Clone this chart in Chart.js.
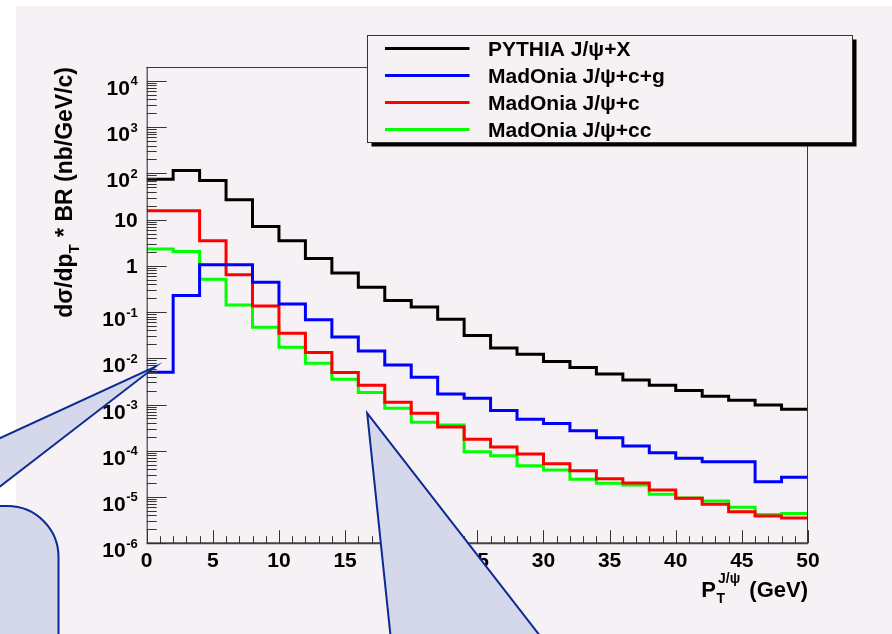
<!DOCTYPE html>
<html>
<head>
<meta charset="utf-8">
<script src="https://cdn.jsdelivr.net/npm/chart.js@4.4.1/dist/chart.umd.min.js"></script>
<style>
  html, body { margin: 0; padding: 0; background: #ffffff; overflow: hidden; }
  canvas { display: block; }
</style>
</head>
<body>
<canvas id="c" width="892" height="634"></canvas>
<script>
// Histogram binning in pT (GeV): low edges of the 2 GeV bins and the upper edge
const binLow = [0, 2, 4, 6, 8, 10, 12, 14, 16, 18, 20, 22, 24, 26, 28, 30, 32, 34, 36, 38, 40, 42, 44, 46, 48];
const binHigh = 50;

// dsigma/dpT * BR (nb/GeV/c) per bin
const pythiaX = [75, 116, 70, 26.8, 7.1, 3.5, 1.44, 0.70, 0.346, 0.177, 0.128, 0.070, 0.031, 0.0166, 0.0123,
                 0.0085, 0.0063, 0.0046, 0.0034, 0.00262, 0.0020, 0.00151, 0.00124, 0.00098, 0.00079];
const madoniaCG = [0.0050, 0.228, 1.05, 1.05, 0.444, 0.150, 0.068, 0.0287, 0.0144, 0.0072, 0.0039, 0.00169, 0.00137,
                   0.00074, 0.00048, 0.00039, 0.00027, 0.00019, 0.000127, 0.000091, 0.0000689, 0.0000581, 0.0000581,
                   0.0000214, 0.0000267];
const madoniaC = [15.5, 15.5, 3.47, 0.64, 0.136, 0.0346, 0.0133, 0.0049, 0.00262, 0.00112, 0.00065, 0.000327, 0.000177,
                  0.000121, 0.0000853, 0.0000526, 0.0000371, 0.0000249, 0.0000201, 0.0000142, 0.0000094, 0.0000070,
                  0.0000048, 0.0000039, 0.0000035];
const madoniaCC = [2.30, 2.04, 0.515, 0.143, 0.047, 0.0174, 0.0078, 0.00353, 0.00181, 0.00083, 0.000414, 0.000361,
                   0.0000957, 0.0000784, 0.0000476, 0.0000384, 0.0000242, 0.0000198, 0.0000182, 0.0000114, 0.0000095,
                   0.0000082, 0.0000060, 0.0000042, 0.0000044];

const seriesLabels = ['PYTHIA J/\u03C8+X', 'MadOnia J/\u03C8+c+g', 'MadOnia J/\u03C8+c', 'MadOnia J/\u03C8+cc'];
const seriesColors = ['#000000', '#0000ff', '#ff0000', '#00ff00'];
const seriesValues = [pythiaX, madoniaCG, madoniaC, madoniaCC];

// Axis ticks
const xMajorTicks = [0, 5, 10, 15, 20, 25, 30, 35, 40, 45, 50];
const xMinorStep = 1;
const yDecades = [-6, -5, -4, -3, -2, -1, 0, 1, 2, 3, 4];
const yMinorFactors = [2, 3, 4, 5, 6, 7, 8, 9];

const FONT = "'Liberation Sans', Arial, Helvetica, sans-serif";
const PANEL = '#f5f1f5';

// Step histogram points: one point per low edge, closed at the upper edge
function histPoints(values) {
  const pts = binLow.map((x, i) => ({ x: x, y: values[i] }));
  pts.push({ x: binHigh, y: values[values.length - 1] });
  return pts;
}

const framePlugin = {
  id: 'rootFrame',
  beforeDraw(chart) {
    const ctx = chart.ctx;
    ctx.save();
    ctx.fillStyle = '#ffffff';
    ctx.fillRect(0, 0, chart.width, chart.height);
    ctx.fillStyle = PANEL;
    ctx.fillRect(16, 6, chart.width - 16, chart.height - 6);
    ctx.restore();
  },
  afterDatasetsDraw(chart) {
    const ctx = chart.ctx;
    const a = chart.chartArea;
    const xs = chart.scales.x, ys = chart.scales.y;
    ctx.save();

    // frame
    ctx.lineWidth = 1;
    ctx.strokeStyle = '#3a3a3a';
    ctx.beginPath();
    ctx.moveTo(a.left, a.top + 0.5); ctx.lineTo(a.right, a.top + 0.5);
    ctx.moveTo(a.right - 0.5, a.top); ctx.lineTo(a.right - 0.5, a.bottom);
    ctx.stroke();
    ctx.strokeStyle = '#222222';
    ctx.beginPath();
    ctx.moveTo(a.left + 0.5, a.top); ctx.lineTo(a.left + 0.5, a.bottom);
    ctx.stroke();
    ctx.lineWidth = 2;
    ctx.strokeStyle = '#444444';
    ctx.beginPath();
    ctx.moveTo(a.left, a.bottom); ctx.lineTo(a.right, a.bottom);
    ctx.stroke();

    // x ticks (pointing up into the frame)
    ctx.lineWidth = 1;
    ctx.strokeStyle = '#333333';
    ctx.beginPath();
    for (let v = xs.min; v <= xs.max + 1e-9; v += xMinorStep) {
      const px = Math.round(xs.getPixelForValue(v)) + 0.5;
      const major = xMajorTicks.includes(v);
      ctx.moveTo(px, a.bottom);
      ctx.lineTo(px, a.bottom - (major ? 13 : 7));
    }
    ctx.stroke();

    // y ticks (pointing right into the frame)
    ctx.beginPath();
    yDecades.forEach(e => {
      const base = Math.pow(10, e);
      const py = Math.round(ys.getPixelForValue(base)) + 0.5;
      ctx.moveTo(a.left, py); ctx.lineTo(a.left + 20, py);
      yMinorFactors.forEach(f => {
        const v = f * base;
        if (v > ys.max) return;
        const pm = Math.round(ys.getPixelForValue(v)) + 0.5;
        ctx.moveTo(a.left, pm); ctx.lineTo(a.left + 10, pm);
      });
    });
    ctx.stroke();

    // y tick labels
    ctx.fillStyle = '#000000';
    ctx.textBaseline = 'alphabetic';
    const labelRight = a.left - 9;
    yDecades.forEach(e => {
      const py = ys.getPixelForValue(Math.pow(10, e));
      if (e === 0 || e === 1) {
        ctx.font = 'bold 21px ' + FONT;
        ctx.textAlign = 'right';
        ctx.fillText(e === 0 ? '1' : '10', labelRight, py + 7.5);
      } else {
        const sup = String(e);
        ctx.font = 'bold 13px ' + FONT;
        const sw = ctx.measureText(sup).width;
        ctx.textAlign = 'right';
        ctx.fillText(sup, labelRight, py + 4.5);
        ctx.font = 'bold 21px ' + FONT;
        ctx.fillText('10', labelRight - sw - 0.5, py + 14);
      }
    });

    // x tick labels
    ctx.font = 'bold 21px ' + FONT;
    ctx.textAlign = 'center';
    xMajorTicks.forEach(v => {
      ctx.fillText(String(v), xs.getPixelForValue(v), a.bottom + 24);
    });

    // x title: P_T^{J/psi} (GeV), right aligned with the axis end
    const bigF = 'bold 22px ' + FONT, subF = 'bold 14px ' + FONT, supF = 'bold 14px ' + FONT;
    ctx.font = bigF; const wP = ctx.measureText('P').width;
    ctx.font = subF; const wT = ctx.measureText('T').width;
    ctx.font = supF; const wJ = ctx.measureText('J/\u03C8').width;
    ctx.font = bigF; const wG = ctx.measureText(' (GeV)').width;
    const wMid = Math.max(wT, wJ) + 5;
    let tx = a.right - (wP + wMid + wG);
    const tb = a.bottom + 53.5;
    ctx.textAlign = 'left';
    ctx.font = bigF; ctx.fillText('P', tx, tb); tx += wP;
    ctx.font = subF; ctx.fillText('T', tx + 0.5, tb + 6.5);
    ctx.font = supF; ctx.fillText('J/\u03C8', tx + 2, tb - 13.5);
    tx += wMid;
    ctx.font = bigF; ctx.fillText(' (GeV)', tx, tb);

    // y title: dsigma/dp_T * BR (nb/GeV/c), rotated, ending at the top of the frame
    ctx.save();
    ctx.translate(71.5, a.top);
    ctx.rotate(-Math.PI / 2);
    const yF = 'bold 23px ' + FONT, ySubF = 'bold 15px ' + FONT;
    ctx.font = yF; const w1 = ctx.measureText('d\u03C3/dp').width;
    ctx.font = ySubF; const w2 = ctx.measureText('T').width + 1;
    ctx.font = yF; const w3 = ctx.measureText(' * BR (nb/GeV/c)').width;
    let yx = -(w1 + w2 + w3);
    ctx.textAlign = 'left';
    ctx.font = yF; ctx.fillText('d\u03C3/dp', yx, 0); yx += w1;
    ctx.font = ySubF; ctx.fillText('T', yx, 7.5); yx += w2;
    ctx.font = yF; ctx.fillText(' * BR (nb/GeV/c)', yx, 0);
    ctx.restore();

    // legend box with drop shadow
    const L = { x: 367.5, y: 35.5, w: 485, h: 107 };
    ctx.fillStyle = '#000000';
    ctx.fillRect(L.x + 4, L.y + 4, L.w, L.h);
    ctx.fillStyle = PANEL;
    ctx.fillRect(L.x, L.y, L.w, L.h);
    ctx.strokeStyle = '#333333';
    ctx.lineWidth = 1;
    ctx.strokeRect(L.x, L.y, L.w, L.h);
    const rowY = [48.5, 75.5, 102.5, 129.5];
    chart.data.datasets.forEach((ds, i) => {
      ctx.strokeStyle = ds.borderColor;
      ctx.lineWidth = 3;
      ctx.beginPath();
      ctx.moveTo(385, rowY[i]); ctx.lineTo(469.5, rowY[i]);
      ctx.stroke();
      ctx.fillStyle = '#000000';
      ctx.font = 'bold 21px ' + FONT;
      ctx.textAlign = 'left';
      ctx.fillText(ds.label, 488, rowY[i] + 7);
    });

    // callouts laid over the figure
    const fill = '#d5d8ea', edge = '#0c2a94';
    ctx.lineWidth = 2;
    ctx.strokeStyle = edge;
    ctx.fillStyle = fill;
    ctx.lineJoin = 'miter';

    const tip1 = { x: xs.getPixelForValue(0.63), y: ys.getPixelForValue(0.0065) };
    ctx.beginPath();
    ctx.moveTo(tip1.x, tip1.y); ctx.lineTo(-2, 439); ctx.lineTo(-2, 488); ctx.closePath();
    ctx.fill();
    ctx.beginPath();
    ctx.moveTo(-2, 439); ctx.lineTo(tip1.x, tip1.y); ctx.lineTo(-2, 488);
    ctx.stroke();

    // rounded box in the lower left
    const r = 51, bx = 58.5, by = 506;
    ctx.beginPath();
    ctx.moveTo(-4, by);
    ctx.lineTo(bx - r, by);
    ctx.arcTo(bx, by, bx, by + r, r);
    ctx.lineTo(bx, chart.height + 4);
    ctx.lineTo(-4, chart.height + 4);
    ctx.closePath();
    ctx.fill();
    ctx.stroke();

    const tip2 = { x: xs.getPixelForValue(16.67), y: ys.getPixelForValue(0.00065) };
    ctx.beginPath();
    ctx.moveTo(tip2.x, tip2.y); ctx.lineTo(392, 650); ctx.lineTo(551, 650); ctx.closePath();
    ctx.fill();
    ctx.stroke();

    ctx.restore();
  }
};

new Chart(document.getElementById('c'), {
  type: 'line',
  data: {
    datasets: seriesValues.map((vals, i) => ({
      label: seriesLabels[i],
      data: histPoints(vals),
      borderColor: seriesColors[i],
      backgroundColor: seriesColors[i],
      borderWidth: 3,
      stepped: 'before',
      pointRadius: 0,
      fill: false,
      tension: 0,
      borderJoinStyle: 'miter',
      borderCapStyle: 'butt'
    }))
  },
  options: {
    responsive: false,
    animation: false,
    devicePixelRatio: 1,
    layout: { padding: { left: 146.7, right: 84, top: 67, bottom: 90.8 } },
    scales: {
      x: { type: 'linear', min: 0, max: 50, display: false },
      y: { type: 'logarithmic', min: 1e-6, max: 2e4, display: false }
    },
    plugins: {
      legend: { display: false },
      tooltip: { enabled: false }
    }
  },
  plugins: [framePlugin]
});
</script>
</body>
</html>
